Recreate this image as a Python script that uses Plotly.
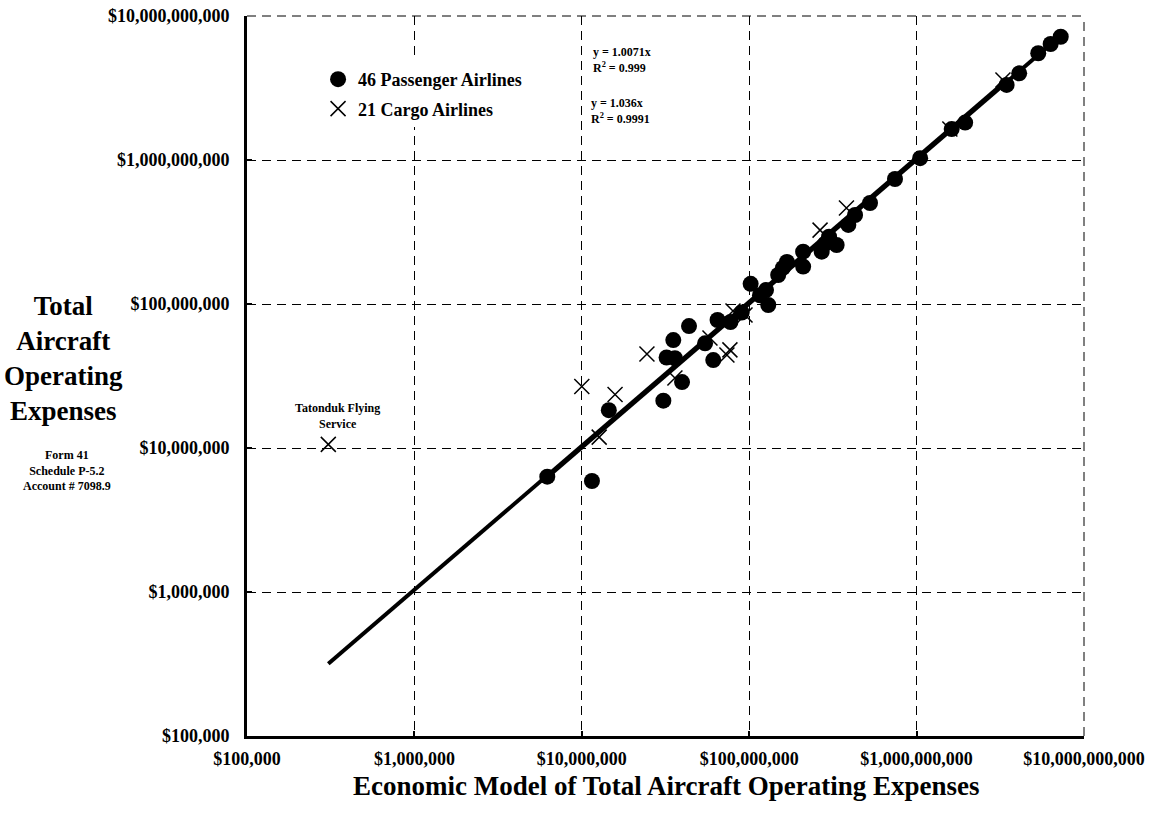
import numpy as np
import plotly.graph_objects as go

# ---- data ----
passenger_x = [6.22e6, 1.15e7, 1.45e7, 3.07e7, 3.21e7, 3.60e7, 3.52e7, 3.97e7, 4.37e7, 5.45e7,
               6.10e7, 6.47e7, 7.73e7, 9.02e7, 1.02e8, 1.16e8, 1.26e8, 1.30e8, 1.49e8, 1.59e8,
               1.68e8, 2.10e8, 2.10e8, 2.71e8, 2.84e8, 3.00e8, 3.33e8, 3.91e8, 4.29e8, 5.27e8,
               7.43e8, 1.05e9, 1.62e9, 1.95e9, 3.45e9, 4.10e9, 5.33e9, 6.32e9, 7.26e9]
passenger_y = [6.32e6, 5.90e6, 1.83e7, 2.13e7, 4.25e7, 4.20e7, 5.62e7, 2.87e7, 7.03e7, 5.33e7,
               4.08e7, 7.74e7, 7.50e7, 8.73e7, 1.38e8, 1.15e8, 1.25e8, 9.84e7, 1.59e8, 1.78e8,
               1.96e8, 1.82e8, 2.31e8, 2.31e8, 2.62e8, 2.93e8, 2.57e8, 3.54e8, 4.15e8, 5.03e8,
               7.38e8, 1.03e9, 1.64e9, 1.82e9, 3.32e9, 4.00e9, 5.51e9, 6.39e9, 7.18e9]

cargo_x = [3.06e5, 1.00e7, 1.58e7, 1.27e7, 2.45e7, 3.60e7, 5.83e7, 7.67e7, 7.36e7, 8.00e7,
           9.44e7, 2.65e8, 3.81e8, 1.58e9, 3.28e9]
cargo_y = [1.06e7, 2.67e7, 2.35e7, 1.19e7, 4.50e7, 3.06e7, 5.81e7, 4.80e7, 4.43e7, 8.94e7,
           8.39e7, 3.26e8, 4.64e8, 1.64e9, 3.59e9]

passenger_slope = 1.0071
cargo_slope = 1.036

tick_vals = [1e5, 1e6, 1e7, 1e8, 1e9, 1e10]
tick_text = ["$100,000", "$1,000,000", "$10,000,000", "$100,000,000",
             "$1,000,000,000", "$10,000,000,000"]

FONT = "Liberation Serif, Times New Roman, serif"

fig = go.Figure()

# trend lines
px_line = np.array([min(passenger_x), max(passenger_x)])
cx_line = np.array([min(cargo_x), max(cargo_x)])
fig.add_trace(go.Scatter(x=cx_line, y=cargo_slope * cx_line, mode="lines",
                         line=dict(color="black", width=4), showlegend=False, hoverinfo="skip"))
fig.add_trace(go.Scatter(x=px_line, y=passenger_slope * px_line, mode="lines",
                         line=dict(color="black", width=4), showlegend=False, hoverinfo="skip"))

fig.add_trace(go.Scatter(x=passenger_x, y=passenger_y, mode="markers",
                         name="46 Passenger Airlines", legendgroup="p",
                         marker=dict(symbol="circle", size=16, color="black")))
fig.add_trace(go.Scatter(x=cargo_x, y=cargo_y, mode="markers",
                         name="21 Cargo Airlines", legendgroup="c",
                         marker=dict(symbol="x-thin", size=15, color="black",
                                     line=dict(color="black", width=1.5))))

axis_common = dict(type="log", range=[5, 10], tickvals=tick_vals, ticktext=tick_text,
                   showgrid=True, gridcolor="black", gridwidth=1, griddash="9px,6px",
                   showline=True, linecolor="black", linewidth=3,
                   ticks="inside", ticklen=5, tickwidth=2, tickcolor="black",
                   tickfont=dict(family=FONT, size=18, color="black", weight="bold"),
                   zeroline=False, automargin=False)

fig.update_xaxes(**axis_common, ticklabelstandoff=4)
fig.update_yaxes(**axis_common, ticklabelstandoff=11)

fig.update_layout(
    template="none",
    width=1152, height=818,
    margin=dict(l=247, r=68, t=16, b=82, pad=0),
    paper_bgcolor="white", plot_bgcolor="white",
    font=dict(family=FONT, color="black"),
    hovermode=False,
    legend=dict(x=0.0849, y=0.9375, xanchor="left", yanchor="top",
                font=dict(family=FONT, size=18, color="black", weight="bold"),
                bgcolor="white", borderwidth=0, tracegroupgap=3, itemwidth=30),
    shapes=[
        dict(type="line", xref="paper", yref="paper", x0=0, x1=1, y0=1, y1=1,
             line=dict(color="black", width=1, dash="9px,6px")),
        dict(type="line", xref="paper", yref="paper", x0=1, x1=1, y0=0, y1=1,
             line=dict(color="black", width=1, dash="9px,6px")),
    ],
    annotations=[
        dict(text="Total<br>Aircraft<br>Operating<br>Expenses", xref="paper", yref="paper",
             x=-0.2198, y=0.525, xanchor="center", yanchor="middle", showarrow=False,
             font=dict(family=FONT, size=27, color="black", weight="bold")),
        dict(text="Form 41<br>Schedule P-5.2<br>Account # 7098.9", xref="paper", yref="paper",
             x=-0.215, y=0.369, xanchor="center", yanchor="middle", showarrow=False,
             font=dict(family=FONT, size=12, color="black", weight="bold")),
        dict(text="Economic Model of Total Aircraft Operating Expenses", xref="paper", yref="paper",
             x=0.5, y=-0.0694, xanchor="center", yanchor="middle", showarrow=False,
             font=dict(family=FONT, size=27, color="black", weight="bold")),
        dict(text="y = 1.0071x<br>R<sup>2</sup> = 0.999", xref="paper", yref="paper",
             x=0.411, y=0.9389, xanchor="left", yanchor="middle", showarrow=False, align="left",
             font=dict(family=FONT, size=12, color="black", weight="bold")),
        dict(text="y = 1.036x<br>R<sup>2</sup> = 0.9991", xref="paper", yref="paper",
             x=0.409, y=0.868, xanchor="left", yanchor="middle", showarrow=False, align="left",
             font=dict(family=FONT, size=12, color="black", weight="bold")),
        dict(text="Tatonduk Flying<br>Service", x=np.log10(cargo_x[0]), y=np.log10(cargo_y[0]),
             xref="x", yref="y", xshift=9, yshift=28, showarrow=False,
             xanchor="center", yanchor="middle",
             font=dict(family=FONT, size=12, color="black", weight="bold")),
    ],
)

fig.write_html("out.html", config={"displayModeBar": False, "staticPlot": True},
               post_script="document.body.style.margin='0';document.body.style.overflow='hidden';")
